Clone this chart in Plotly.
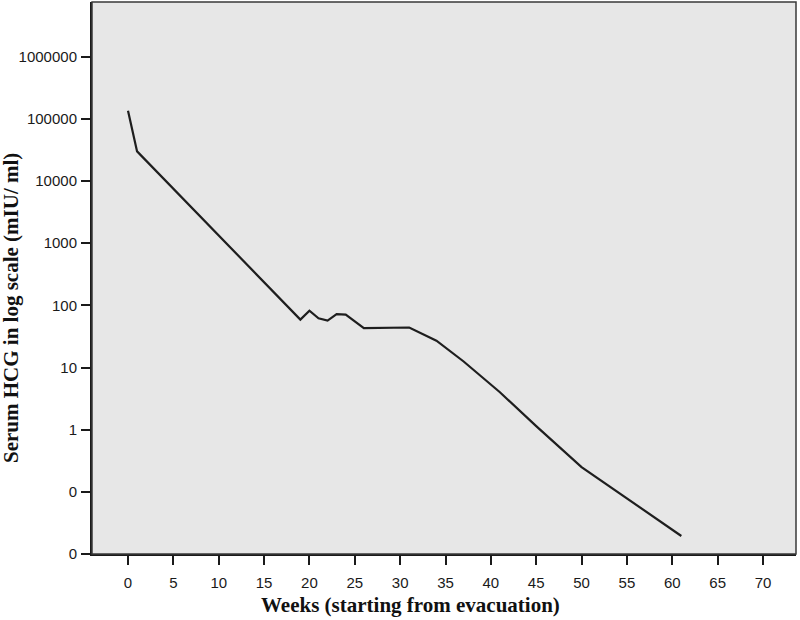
import plotly.graph_objects as go

weeks = [0, 1, 19, 20, 21, 22, 23, 24, 26, 31, 34, 37, 41, 45, 50, 61]
hcg = [135000, 30000, 59, 82, 62, 57, 72, 71, 43, 44, 27, 12.5, 4.0, 1.14, 0.25, 0.0195]

x_ticks = list(range(0, 71, 5))
y_tickvals = [0.01, 0.1, 1, 10, 100, 1000, 10000, 100000, 1000000]
y_ticktext = ["0", "0", "1", "10", "100", "1000", "10000", "100000", "1000000"]

fig = go.Figure()
fig.add_trace(go.Scatter(x=weeks, y=hcg, mode="lines",
                         line=dict(color="#1e1e1e", width=2.2), showlegend=False))

W, H = 800, 620
L, R, T, B = 92, 4, 2, 66
pw = W - L - R
ph = H - T - B

fig.update_layout(
    width=W, height=H,
    margin=dict(l=L, r=R, t=T, b=B),
    paper_bgcolor="white",
    plot_bgcolor="#e7e7e7",
    font=dict(family="Liberation Sans, Arial, sans-serif", size=15, color="#1a1a1a"),
    xaxis=dict(range=[-3.97, 73.64], tickvals=x_ticks, ticks="outside", ticklen=9,
               tickwidth=2, tickcolor="#1a1a1a", showgrid=False, zeroline=False,
               showline=True, linecolor="#1a1a1a", linewidth=2,
               ticklabelstandoff=5),
    yaxis=dict(type="log", range=[-2, 6.88], tickvals=y_tickvals, ticktext=y_ticktext,
               ticks="outside", ticklen=9, tickwidth=2, tickcolor="#1a1a1a",
               showgrid=False, zeroline=False, showline=True, linecolor="#1a1a1a",
               linewidth=2, ticklabelstandoff=1),
    shapes=[dict(type="rect", xref="paper", yref="paper", x0=0, x1=1, y0=0, y1=1,
                 line=dict(color="#3a3a3a", width=1.5), layer="above")],
    annotations=[
        dict(text="<b>Weeks (starting from evacuation)</b>", xref="paper", yref="paper",
             x=(410 - L) / pw, y=(H - B - 605) / ph, xanchor="center", yanchor="middle",
             showarrow=False, font=dict(family="Liberation Serif, Times New Roman, serif",
                                        size=21, color="#111")),
        dict(text="<b>Serum HCG in log scale (mIU/ ml)</b>", xref="paper", yref="paper",
             x=(11 - L) / pw, y=(H - B - 308) / ph, xanchor="center", yanchor="middle",
             textangle=-90, showarrow=False,
             font=dict(family="Liberation Serif, Times New Roman, serif",
                       size=21, color="#111")),
    ],
)

fig.write_html("out.html", config={"displayModeBar": False},
               post_script="document.body.style.margin='0px';document.body.style.overflow='hidden';")
